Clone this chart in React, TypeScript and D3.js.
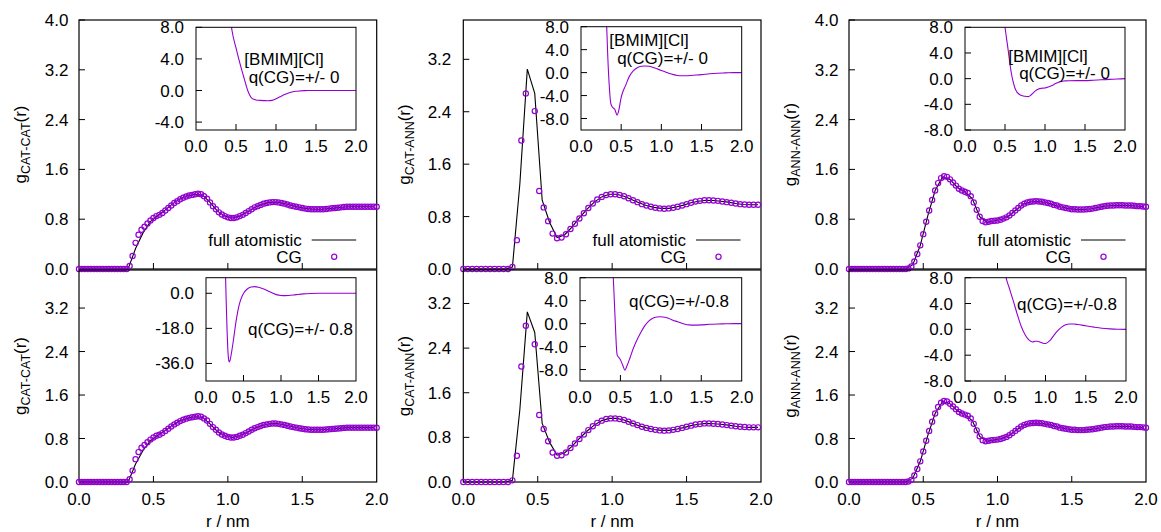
import React from "react";
import * as d3 from "d3";

const FONT = "'Liberation Sans', Arial, Helvetica, sans-serif";
const PURPLE = "#9400d3";

// ---------- sampling grids ----------
const CG_STEP_FINE = 0.02; // CAT-CAT and ANN-ANN CG samples
const CG_STEP_COARSE = 0.03; // CAT-ANN CG samples
const R_FA = d3.range(0.03, 2.0, 0.05); // full atomistic samples

// ---------- RDF data ----------
const gCatCatCG = [
  0, 0, 0, 0, 0, 0, 0, 0, 0, 0, 0, 0, 0, 0, 0, 0, 0,
  0.05, 0.21, 0.42, 0.55, 0.63, 0.68, 0.73, 0.78, 0.82, 0.85, 0.87, 0.9, 0.94, 0.98, 1.02, 1.06, 1.09, 1.12,
  1.145, 1.165, 1.18, 1.19, 1.2, 1.21, 1.2, 1.17, 1.13, 1.07, 1.01, 0.96, 0.91, 0.875, 0.85, 0.83, 0.82,
  0.82, 0.83, 0.85, 0.87, 0.9, 0.93, 0.96, 0.99, 1.01, 1.03, 1.05, 1.06, 1.07, 1.075, 1.075, 1.07, 1.06,
  1.05, 1.035, 1.02, 1.01, 1.0, 0.99, 0.98, 0.97, 0.965, 0.96, 0.96, 0.96, 0.96, 0.96, 0.965, 0.97, 0.975,
  0.98, 0.985, 0.99, 0.995, 1.0, 1.0, 1.0, 1.0, 1.0, 1.0, 1.0, 1.0, 1.0, 1.0, 1.0,
];
const gCatCatFA = [
  0, 0, 0, 0, 0, 0, 0.0, 0.33, 0.58, 0.76, 0.86, 0.95, 1.05, 1.13, 1.175, 1.2, 1.19, 1.07, 0.93, 0.85,
  0.82, 0.85, 0.915, 0.99, 1.04, 1.07, 1.075, 1.05, 1.02, 0.99, 0.97, 0.96, 0.96, 0.97, 0.982, 0.995,
  1.0, 1.0, 1.0, 1.0,
];
const gCatAnnCG = [
  0, 0, 0, 0, 0, 0, 0, 0, 0, 0, 0,
  0.03, 0.44, 1.96, 2.68, null, 2.41, 1.19, 0.94, 0.73, 0.54, 0.47, 0.48, 0.53, 0.61, 0.69, 0.77, 0.85,
  0.93, 1.0, 1.06, 1.1, 1.13, 1.14, 1.14, 1.13, 1.11, 1.08, 1.05, 1.02, 0.99, 0.97, 0.95, 0.935, 0.925,
  0.92, 0.925, 0.935, 0.95, 0.97, 0.99, 1.01, 1.03, 1.04, 1.05, 1.05, 1.045, 1.04, 1.03, 1.02, 1.01, 1.0,
  0.99, 0.985, 0.98, 0.98, 0.98,
];
const gCatAnnCGq08 = [
  0, 0, 0, 0, 0, 0, 0, 0, 0, 0, 0,
  0.03, 0.47, 2.07, 2.8, null, 2.47, 1.2, 0.95, 0.73, 0.53, 0.47, 0.48, 0.53, 0.61, 0.69, 0.77, 0.85,
  0.93, 1.0, 1.06, 1.1, 1.13, 1.14, 1.14, 1.13, 1.11, 1.08, 1.05, 1.02, 0.99, 0.97, 0.95, 0.935, 0.925,
  0.92, 0.925, 0.935, 0.95, 0.97, 0.99, 1.01, 1.03, 1.04, 1.05, 1.05, 1.045, 1.04, 1.03, 1.02, 1.01, 1.0,
  0.99, 0.985, 0.98, 0.98, 0.98,
];
const gCatAnnFA = [
  0, 0, 0, 0, 0, 0, 0.03, 1.3, 3.05, 2.68, 1.05, 0.71, 0.48, 0.52, 0.64, 0.78, 0.91, 1.02, 1.1, 1.14,
  1.14, 1.11, 1.06, 1.01, 0.97, 0.94, 0.925, 0.925, 0.945, 0.975, 1.01, 1.035, 1.05, 1.045, 1.035, 1.02,
  1.0, 0.985, 0.98, 0.98,
];
const gAnnAnnCG = [
  0, 0, 0, 0, 0, 0, 0, 0, 0, 0, 0, 0, 0, 0, 0, 0, 0, 0, 0, 0,
  0.01, 0.04, 0.12, 0.24, 0.38, 0.56, 0.76, 0.94, 1.11, 1.26, 1.38, 1.46, 1.49, 1.48, 1.44, 1.39, 1.34,
  1.29, 1.26, 1.24, 1.22, 1.17, 1.07, 0.95, 0.84, 0.77, 0.75, 0.76, 0.77, 0.775, 0.78, 0.79, 0.81, 0.83,
  0.86, 0.9, 0.94, 0.98, 1.02, 1.05, 1.07, 1.08, 1.085, 1.09, 1.085, 1.08, 1.07, 1.06, 1.05, 1.03, 1.02,
  1.0, 0.99, 0.98, 0.97, 0.96, 0.96, 0.955, 0.955, 0.955, 0.96, 0.965, 0.97, 0.98, 0.99, 1.0, 1.01, 1.015,
  1.02, 1.02, 1.025, 1.025, 1.025, 1.02, 1.02, 1.02, 1.015, 1.01, 1.01, 1.005, 1.0,
];
const gAnnAnnFA = [
  0, 0, 0, 0, 0, 0, 0, 0, 0.07, 0.38, 0.85, 1.26, 1.48, 1.44, 1.31, 1.24, 1.13, 0.84, 0.75, 0.775, 0.8,
  0.86, 0.96, 1.05, 1.08, 1.085, 1.065, 1.03, 0.995, 0.97, 0.958, 0.955, 0.968, 0.99, 1.012, 1.02, 1.025,
  1.02, 1.012, 1.005,
];

// ---------- CG potentials (insets) ----------
const rUCatCatQ0 = [0.4, 0.45, 0.5, 0.55, 0.6, 0.65, 0.7, 0.75, 0.8, 0.85, 0.9, 0.95, 1.0, 1.05, 1.1, 1.15, 1.2, 1.25, 1.3, 1.35, 1.4, 1.5, 1.6, 1.7, 1.8, 1.9, 2.0];
const uCatCatQ0 = [12, 7.6, 5.4, 3.4, 1.6, -0.1, -1.0, -1.2, -1.25, -1.28, -1.3, -1.25, -1.05, -0.8, -0.55, -0.35, -0.2, -0.1, -0.05, -0.02, 0, 0, 0, 0, 0, 0, 0];

const rUCatAnnQ0 = [0.3, 0.32, 0.33, 0.35, 0.37, 0.39, 0.42, 0.45, 0.47, 0.5, 0.53, 0.55, 0.6, 0.65, 0.7, 0.75, 0.8, 0.85, 0.9, 0.95, 1.0, 1.05, 1.1, 1.15, 1.2, 1.25, 1.3, 1.4, 1.5, 1.6, 1.7, 1.8, 1.9, 2.0];
const uCatAnnQ0 = [14, 8.0, 4.0, -1.9, -5.3, -6.0, -6.4, -7.4, -6.6, -4.3, -3.0, -2.4, -0.7, 0.3, 0.85, 1.1, 1.15, 1.1, 0.9, 0.65, 0.38, 0.1, -0.15, -0.35, -0.5, -0.55, -0.55, -0.45, -0.35, -0.2, -0.1, -0.05, 0, 0];

const rUAnnAnnQ0 = [0.48, 0.5, 0.52, 0.54, 0.56, 0.58, 0.6, 0.625, 0.65, 0.7, 0.75, 0.79, 0.82, 0.85, 0.88, 0.92, 0.96, 1.0, 1.04, 1.08, 1.12, 1.16, 1.2, 1.25, 1.3, 1.4, 1.5, 1.6, 1.7, 1.8, 1.9, 2.0];
const uAnnAnnQ0 = [10, 8.0, 6.2, 4.4, 2.5, 0.8, -0.4, -1.5, -2.1, -2.6, -2.75, -2.8, -2.6, -2.25, -1.9, -1.6, -1.5, -1.45, -1.3, -1.1, -0.85, -0.6, -0.42, -0.35, -0.32, -0.3, -0.3, -0.25, -0.18, -0.12, -0.06, 0];

const rUCatCatQ08 = [0.25, 0.26, 0.27, 0.28, 0.29, 0.3, 0.31, 0.32, 0.34, 0.36, 0.38, 0.4, 0.42, 0.44, 0.46, 0.48, 0.5, 0.55, 0.6, 0.65, 0.7, 0.75, 0.8, 0.85, 0.9, 0.95, 1.0, 1.05, 1.1, 1.2, 1.3, 1.4, 1.5, 1.75, 2.0];
const uCatCatQ08 = [30, 10, -5, -18, -28, -33.5, -35.2, -34.5, -30.5, -25.5, -20, -14.5, -10, -6.3, -3.6, -1.6, -0.1, 2.2, 3.2, 3.4, 3.1, 2.5, 1.7, 0.8, -0.1, -0.8, -1.1, -1.2, -1.15, -0.7, -0.3, -0.1, 0, 0, 0];

const rUCatAnnQ08 = [0.4, 0.41, 0.42, 0.43, 0.44, 0.45, 0.46, 0.48, 0.5, 0.53, 0.555, 0.58, 0.62, 0.66, 0.7, 0.75, 0.8, 0.85, 0.9, 0.95, 1.0, 1.05, 1.1, 1.15, 1.2, 1.25, 1.3, 1.35, 1.4, 1.5, 1.6, 1.7, 1.8, 1.9, 2.0];
const uCatAnnQ08 = [12, 8.5, 5.5, 2.2, -1.0, -4.0, -5.5, -5.9, -6.3, -7.3, -8.1, -7.4, -5.9, -4.3, -3.0, -1.6, -0.4, 0.45, 0.95, 1.15, 1.2, 1.1, 0.9, 0.6, 0.35, 0.1, -0.1, -0.22, -0.27, -0.22, -0.12, -0.06, -0.03, 0, 0];

const rUAnnAnnQ08 = [0.48, 0.51, 0.55, 0.6, 0.65, 0.7, 0.75, 0.8, 0.84, 0.87, 0.9, 0.94, 0.98, 1.01, 1.05, 1.1, 1.15, 1.2, 1.25, 1.3, 1.35, 1.4, 1.5, 1.6, 1.7, 1.8, 1.9, 2.0];
const uAnnAnnQ08 = [10, 8.0, 6.4, 4.4, 2.3, 0.4, -0.9, -1.7, -1.95, -1.85, -1.85, -2.0, -2.2, -2.15, -1.8, -1.0, -0.25, 0.35, 0.7, 0.82, 0.82, 0.75, 0.55, 0.35, 0.18, 0.08, 0.02, 0];

// ---------- ticks & labels ----------
const X_TICKS = [0, 0.5, 1.0, 1.5, 2.0];
const Y_TICKS = [0, 0.8, 1.6, 2.4, 3.2, 4.0];
const INSET_TICKS_Q0_CC = [8, 4, 0, -4];
const INSET_TICKS_8 = [8, 4, 0, -4, -8];
const INSET_TICKS_Q08_CC = [0, -18, -36];
const PAIR_LABELS = ["CAT-CAT", "CAT-ANN", "ANN-ANN"];
const LEGEND_LABELS = ["full atomistic", "CG"];
const X_LABEL = "r / nm";

// ---------- layout (not data) ----------
const COLS = [
  { left: 79, right: 376.7, gap: 10.5 },
  { left: 463.3, right: 761, gap: 12 },
  { left: 849, right: 1146, gap: 10.5 },
];
const ROWS = [
  { top: 20, bottom: 269 },
  { top: 270, bottom: 482 },
];
const YMAX = [
  [4.0, 3.8, 4.0],
  [3.9, 3.8, 3.9],
];
const INSETS = [
  [
    { x0: 196, x1: 356, y0: 27.3, y1: 130, dom: [-5, 8], ticks: INSET_TICKS_Q0_CC },
    { x0: 581, x1: 741.7, y0: 26.7, y1: 130, dom: [-10, 8], ticks: INSET_TICKS_8 },
    { x0: 965, x1: 1125, y0: 27.3, y1: 130, dom: [-8, 8], ticks: INSET_TICKS_8 },
  ],
  [
    { x0: 206, x1: 356, y0: 277.7, y1: 381, dom: [-45, 8], ticks: INSET_TICKS_Q08_CC },
    { x0: 580, x1: 741.7, y0: 277.7, y1: 381, dom: [-10, 8], ticks: INSET_TICKS_8 },
    { x0: 965, x1: 1126, y0: 277.7, y1: 381, dom: [-8, 8], ticks: INSET_TICKS_8 },
  ],
];
const INSET_TEXTS = [
  [
    [{ t: "[BMIM][Cl]", x: 284, y: 65 }, { t: "q(CG)=+/- 0", x: 294, y: 83 }],
    [{ t: "[BMIM][Cl]", x: 649, y: 46 }, { t: "q(CG)=+/- 0", x: 662.5, y: 63.5 }],
    [{ t: "[BMIM][Cl]", x: 1048, y: 61.5 }, { t: "q(CG)=+/- 0", x: 1064.5, y: 78.5 }],
  ],
  [
    [{ t: "q(CG)=+/- 0.8", x: 300.5, y: 335 }],
    [{ t: "q(CG)=+/-0.8", x: 679, y: 306.5 }],
    [{ t: "q(CG)=+/-0.8", x: 1067, y: 310 }],
  ],
];

const DATA = [
  [
    { cg: gCatCatCG, step: CG_STEP_FINE, fa: gCatCatFA, ur: rUCatCatQ0, u: uCatCatQ0 },
    { cg: gCatAnnCG, step: CG_STEP_COARSE, fa: gCatAnnFA, ur: rUCatAnnQ0, u: uCatAnnQ0 },
    { cg: gAnnAnnCG, step: CG_STEP_FINE, fa: gAnnAnnFA, ur: rUAnnAnnQ0, u: uAnnAnnQ0 },
  ],
  [
    { cg: gCatCatCG, step: CG_STEP_FINE, fa: gCatCatFA, ur: rUCatCatQ08, u: uCatCatQ08 },
    { cg: gCatAnnCGq08, step: CG_STEP_COARSE, fa: gCatAnnFA, ur: rUCatAnnQ08, u: uCatAnnQ08 },
    { cg: gAnnAnnCG, step: CG_STEP_FINE, fa: gAnnAnnFA, ur: rUAnnAnnQ08, u: uAnnAnnQ08 },
  ],
];

const FS = 17;
const TICK = 6;
const MR = 2.6;

function fmt(v: number) {
  return v.toFixed(1);
}

function Inset({ row, col, d }: any) {
  const ins = INSETS[row][col];
  const x = d3.scaleLinear().domain([0, 2]).range([ins.x0, ins.x1]);
  const y = d3.scaleLinear().domain(ins.dom).range([ins.y1, ins.y0]);
  const pts: [number, number][] = d.ur.map((r: number, i: number) => [r, d.u[i]]);
  const path = d3
    .line<[number, number]>()
    .x((p) => x(p[0]))
    .y((p) => y(p[1]))
    .curve(d3.curveMonotoneX)(pts) as string;
  const clipId = `clip-${row}-${col}`;
  return (
    <g>
      <defs>
        <clipPath id={clipId}>
          <rect x={ins.x0} y={ins.y0} width={ins.x1 - ins.x0} height={ins.y1 - ins.y0} />
        </clipPath>
      </defs>
      <rect x={ins.x0} y={ins.y0} width={ins.x1 - ins.x0} height={ins.y1 - ins.y0} fill="#fff" />
      <path d={path} fill="none" stroke={PURPLE} strokeWidth={1.1} clipPath={`url(#${clipId})`} />
      <rect x={ins.x0} y={ins.y0} width={ins.x1 - ins.x0} height={ins.y1 - ins.y0} fill="none" stroke="#000" strokeWidth={1} />
      {ins.ticks.map((t: number) => (
        <g key={`y${t}`}>
          <line x1={ins.x0} x2={ins.x0 + TICK} y1={y(t)} y2={y(t)} stroke="#000" strokeWidth={1} />
          <text x={ins.x0 - 12} y={y(t) + 6} textAnchor="end" fontSize={FS}>
            {fmt(t)}
          </text>
        </g>
      ))}
      {X_TICKS.map((t) => (
        <g key={`x${t}`}>
          {t > 0 && t < 2 && (
            <line x1={x(t)} x2={x(t)} y1={ins.y1} y2={ins.y1 - TICK} stroke="#000" strokeWidth={1} />
          )}
          <text x={x(t)} y={ins.y1 + 22} textAnchor="middle" fontSize={FS}>
            {fmt(t)}
          </text>
        </g>
      ))}
      {INSET_TEXTS[row][col].map((tx: any, i: number) => (
        <text key={i} x={tx.x} y={tx.y} textAnchor="middle" fontSize={FS}>
          {tx.t}
        </text>
      ))}
    </g>
  );
}

function Panel({ row, col }: { row: number; col: number }) {
  const c = COLS[col];
  const rw = ROWS[row];
  const d = DATA[row][col];
  const ymax = YMAX[row][col];
  const x = d3.scaleLinear().domain([0, 2]).range([c.left, c.right]);
  const y = d3.scaleLinear().domain([0, ymax]).range([rw.bottom, rw.top]);
  const yt = Y_TICKS.filter((t) => t <= ymax + 1e-9);
  const faPts: [number, number][] = R_FA.map((r, i) => [r, d.fa[i]]);
  const faPath = d3
    .line<[number, number]>()
    .x((p) => x(p[0]))
    .y((p) => y(p[1]))(faPts) as string;
  const cgPts = (d.cg as (number | null)[])
    .map((g, i) => [i * d.step, g] as [number, number | null])
    .filter((p) => p[1] !== null && p[0] <= 2.0001) as [number, number][];
  const yc = (rw.top + rw.bottom) / 2;
  return (
    <g>
      <rect x={c.left} y={rw.top} width={c.right - c.left} height={rw.bottom - rw.top} fill="none" stroke="#000" strokeWidth={1.2} />
      {yt.map((t) => (
        <g key={`y${t}`}>
          <line x1={c.left} x2={c.left + TICK} y1={y(t)} y2={y(t)} stroke="#000" strokeWidth={1} />
          <text x={c.left - c.gap} y={y(t) + 6} textAnchor="end" fontSize={FS}>
            {fmt(t)}
          </text>
        </g>
      ))}
      {X_TICKS.map((t) => (
        <g key={`x${t}`}>
          {t > 0 && t < 2 && (
            <line x1={x(t)} x2={x(t)} y1={rw.bottom} y2={rw.bottom - TICK} stroke="#000" strokeWidth={1} />
          )}
          {row === 1 && (
            <text x={x(t)} y={rw.bottom + 23} textAnchor="middle" fontSize={FS}>
              {fmt(t)}
            </text>
          )}
        </g>
      ))}
      {row === 1 && (
        <text x={(c.left + c.right) / 2} y={527} textAnchor="middle" fontSize={FS}>
          {X_LABEL}
        </text>
      )}
      <text transform={`translate(${c.left - 53},${yc}) rotate(-90)`} textAnchor="middle" fontSize={FS}>
        g
        <tspan fontSize={12.5} dy={4}>
          {PAIR_LABELS[col]}
        </tspan>
        <tspan dy={-4}>(r)</tspan>
      </text>
      <path d={faPath} fill="none" stroke="#000" strokeWidth={1.1} />
      {cgPts.map((p, i) => (
        <circle key={i} cx={x(p[0])} cy={y(p[1])} r={MR} fill="none" stroke={PURPLE} strokeWidth={1.2} />
      ))}
      {row === 0 && (
        <g>
          <text x={c.right - 75} y={245.5} textAnchor="end" fontSize={FS}>
            {LEGEND_LABELS[0]}
          </text>
          <line x1={c.right - 65} x2={c.right - 20.5} y1={240} y2={240} stroke="#000" strokeWidth={1.1} />
          <text x={c.right - 75} y={263} textAnchor="end" fontSize={FS}>
            {LEGEND_LABELS[1]}
          </text>
          <circle cx={c.right - 42.5} cy={256.7} r={MR} fill="none" stroke={PURPLE} strokeWidth={1.2} />
        </g>
      )}
      <Inset row={row} col={col} d={d} />
    </g>
  );
}

export default function App() {
  const W = 1161;
  const H = 532;
  return (
    <svg
      width={W}
      height={H}
      style={{ position: "absolute", left: 0, top: 0, display: "block" }}
      fontFamily={FONT}
    >
      <rect width={W} height={H} fill="#fff" />
      {[0, 1].map((row) => [0, 1, 2].map((col) => <Panel key={`${row}-${col}`} row={row} col={col} />))}
    </svg>
  );
}
